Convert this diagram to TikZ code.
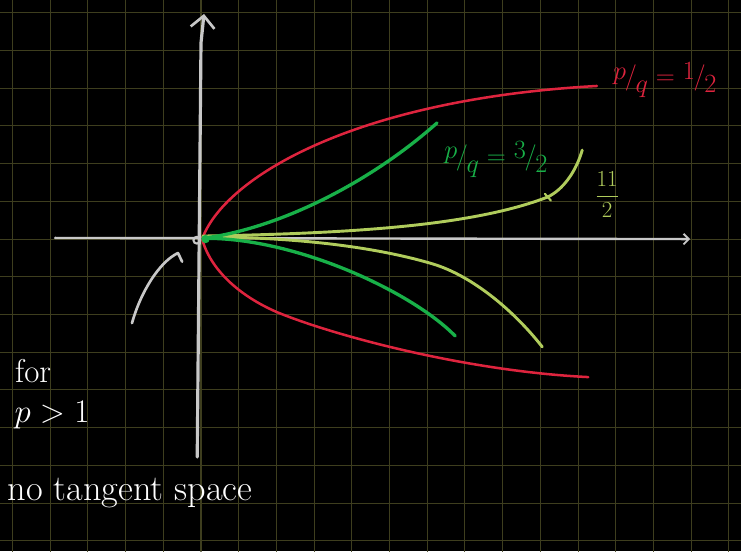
\documentclass[tikz,border=0pt]{standalone}
\usepackage{amsmath}
\usepackage{amssymb}
\usepackage{tikz}
\usetikzlibrary{arrows.meta}
\definecolor{gridline}{RGB}{62,62,30}
\definecolor{chalk}{RGB}{200,200,200}
\definecolor{halfred}{RGB}{222,36,62}
\definecolor{cuspgreen}{RGB}{24,176,72}
\definecolor{flatgreen}{RGB}{176,204,92}
\newcommand{\slfrac}[2]{\raisebox{0.45ex}{$#1$}\kern-0.05em\rule[-0.2ex]{0pt}{1ex}/\kern-0.05em\raisebox{-0.75ex}{$#2$}}

\begin{document}
\begin{tikzpicture}[x=1cm,y=1cm,line cap=round,line join=round]
			\fill[black] (-5.33,-8.28) rectangle (14.32,6.34);
			\useasboundingbox (-5.33,-8.28) rectangle (14.32,6.34);
			\draw[gridline,line width=0.8pt] (-5.33,-8.28) grid (14.32,6.34);
			\draw[chalk,line width=2.4pt,-{Straight Barb[length=9pt,width=18pt,line width=2pt]}] (-0.1,-5.78) -- (0.0,5.2) -- (0.08,5.97);
			\draw[chalk,line width=1.8pt,-{Straight Barb[length=4pt,width=8pt,line width=1.4pt]}] (-3.87,0.03) -- (12.97,0.0);
			\draw[halfred,line width=1.9pt] (10.27,-3.66) .. controls (7,-3.5) and (3.5,-2.55) .. (2.02,-1.94) .. controls (1.0,-1.5) and (0.25,-0.8) .. (0.03,0) .. controls (0.6,1.6) and (4,3.7) .. (10.5,4.06);
			\draw[flatgreen,line width=2.2pt] (0.05,0.08) .. controls (4,0.15) and (7.2,0.35) .. (9.18,1.11) .. controls (9.6,1.3) and (9.95,1.8) .. (10.11,2.36);
			\draw[flatgreen,line width=1.6pt] (9.12,1.2) -- (9.28,1.02);
			\draw[flatgreen,line width=2.2pt] (0.05,0.06) .. controls (2.5,0.05) and (4.6,-0.2) .. (6.15,-0.66) .. controls (7.2,-0.98) and (8.3,-1.9) .. (9.05,-2.86);
			\draw[cuspgreen,line width=2.5pt] (0.05,0.02) .. controls (2.2,0.3) and (4.6,1.6) .. (6.26,3.08);
			\draw[cuspgreen,line width=2.5pt] (0.05,0.02) .. controls (2.5,0.05) and (5.6,-1.4) .. (6.74,-2.57);
			\fill[cuspgreen] (0.12,0.0) circle (0.11);
			\draw[chalk,line width=1.6pt] (-0.11,-0.03) circle (0.09);
			\draw[chalk,line width=2pt] (-1.83,-2.23) .. controls (-1.6,-1.4) and (-1.1,-0.6) .. (-0.61,-0.37) -- (-0.5,-0.6);
			\node[halfred,font=\LARGE,scale=1.15] (halflabel) at (12.3,4.22) {\slfrac{p}{q} = \slfrac{1}{2}};
			\node[cuspgreen,font=\LARGE,scale=1.15] (cusplabel) at (7.82,2.1) {\slfrac{p}{q} = \slfrac{3}{2}};
			\node[flatgreen,font=\LARGE] (flatlabel) at (10.77,1.17) {$\dfrac{11}{2}$};
			\node[white,font=\Huge] (forlabel) at (-4.45,-3.5) {for};
			\node[white,font=\Huge] (plabel) at (-3.95,-4.67) {$p>1$};
			\node[white,font=\Huge,scale=1.1] (tangentlabel) at (-1.88,-6.74) {no tangent space};
		\end{tikzpicture}
\end{document}
